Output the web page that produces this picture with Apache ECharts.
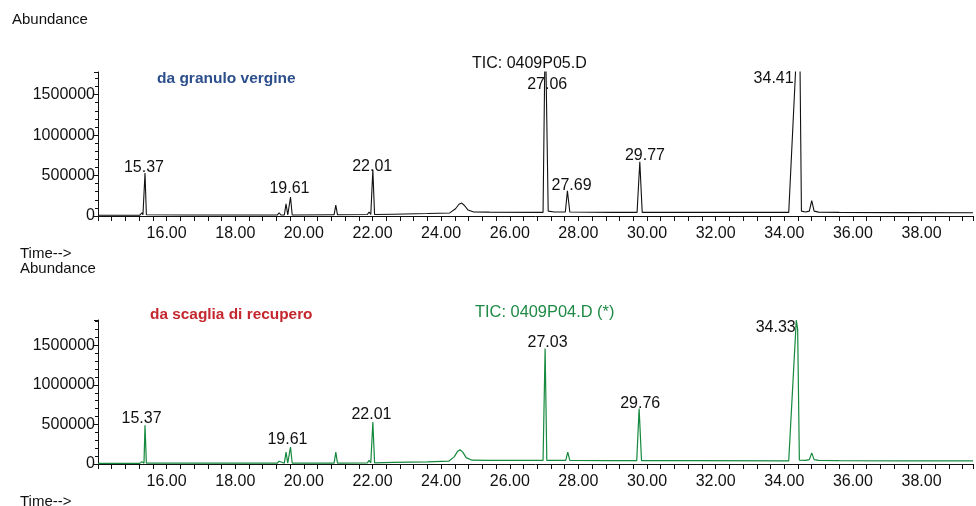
<!DOCTYPE html>
<html>
<head>
<meta charset="utf-8">
<script src="https://cdn.jsdelivr.net/npm/echarts@6/dist/echarts.min.js"></script>
<style>
html,body{margin:0;padding:0;background:#fff;}
#c{width:976px;height:506px;}
</style>
</head>
<body>
<div id="c"></div>
<script>
// ---- Data ----
const xTicks = [16, 18, 20, 22, 24, 26, 28, 30, 32, 34, 36, 38];
const yTicks = [0, 500000, 1000000, 1500000];

// Top trace (da granulo vergine) – retention time (min) / abundance
const timeTop = [14.00, 15.22, 15.28, 15.31, 15.34, 15.37, 15.41, 15.46, 16.6, 19.22, 19.28, 19.33, 19.43, 19.48, 19.53, 19.57, 19.61, 19.66, 20.82, 20.88, 20.93, 20.98, 21.85, 21.90, 21.95, 22.01, 22.06, 22.6, 23.6, 24.25, 24.42, 24.52, 24.60, 24.68, 24.78, 24.95, 25.4, 26.97, 27.00, 27.035, 27.09, 27.12, 27.3, 27.62, 27.68, 27.75, 29.0, 29.71, 29.79, 29.86, 31.5, 34.13, 34.33, 34.40, 34.46, 34.50, 34.62, 34.73, 34.80, 34.87, 35.0, 35.6, 37.5, 39.5];
const abundTop = [10000, 10000, 40000, 15000, 15000, 530000, 15000, 10000, 12000, 12000, 40000, 12000, 12000, 150000, 12000, 12000, 235000, 12000, 15000, 15000, 135000, 15000, 18000, 50000, 18000, 570000, 18000, 22000, 30000, 38000, 90000, 145000, 160000, 130000, 75000, 50000, 48000, 45000, 60000, 2400000, 2400000, 60000, 50000, 50000, 310000, 50000, 45000, 45000, 670000, 45000, 45000, 45000, 1800000, 2600000, 1800000, 60000, 50000, 60000, 190000, 60000, 48000, 45000, 42000, 40000];

// Bottom trace (da scaglia di recupero)
const timeBot = [14.00, 15.22, 15.28, 15.31, 15.34, 15.37, 15.41, 15.46, 16.6, 19.22, 19.28, 19.33, 19.43, 19.48, 19.53, 19.57, 19.61, 19.66, 20.82, 20.88, 20.93, 20.98, 21.85, 21.90, 21.95, 22.01, 22.06, 22.6, 23.6, 24.22, 24.38, 24.48, 24.55, 24.63, 24.73, 24.90, 25.4, 26.97, 27.03, 27.08, 27.3, 27.63, 27.69, 27.75, 29.0, 29.70, 29.77, 29.84, 31.5, 34.13, 34.35, 34.39, 34.44, 34.62, 34.73, 34.80, 34.87, 35.0, 35.6, 37.5, 39.5];
const abundBot = [8000, 8000, 30000, 10000, 10000, 490000, 10000, 8000, 10000, 10000, 35000, 10000, 10000, 150000, 10000, 10000, 215000, 10000, 12000, 12000, 150000, 12000, 15000, 45000, 15000, 530000, 15000, 20000, 28000, 36000, 90000, 160000, 180000, 150000, 80000, 48000, 45000, 45000, 1460000, 45000, 45000, 45000, 150000, 45000, 42000, 42000, 700000, 42000, 42000, 40000, 1820000, 1700000, 50000, 45000, 55000, 140000, 55000, 45000, 42000, 40000, 40000];

// Peak annotations: label text, label-centre time, label-centre abundance
const peakTextTop = ['15.37', '19.61', '22.01', '27.06', '27.69', '29.77', '34.41'];
const peakTimeTop = [15.34, 19.58, 21.99, 27.09, 27.80, 29.94, 33.69];
const peakAbTop   = [600000, 340000, 610000, 1630000, 370000, 750000, 1693000];

const peakTextBot = ['15.37', '19.61', '22.01', '27.03', '29.76', '34.33'];
const peakTimeBot = [15.27, 19.52, 21.97, 27.10, 29.80, 33.75];
const peakAbBot   = [573000, 304000, 620000, 1534000, 763000, 1720000];

// ---- Chart ----
const FONT = '"Liberation Sans", Arial, Helvetica, sans-serif';
const pair = (a, b) => a.map((v, i) => [v, b[i]]);
const labels = (t, x, y) => t.map((s, i) => ({ name: s, value: [x[i], y[i]] }));

function xAxis(gi) {
  return {
    type: 'value', gridIndex: gi, min: 14, max: 39.5, interval: 2,
    axisLine: { lineStyle: { color: '#111', width: 1 } },
    axisTick: { show: true, length: 5, lineStyle: { color: '#111' } },
    minorTick: { show: true, splitNumber: 5, length: 5, lineStyle: { color: '#111' } },
    splitLine: { show: false },
    axisLabel: {
      color: '#111', fontSize: 16, fontFamily: FONT, margin: 10,
      formatter: v => (xTicks.indexOf(v) >= 0 ? v.toFixed(2) : '')
    }
  };
}
function yAxis(gi, max) {
  return {
    type: 'value', gridIndex: gi, min: 0, max: max, interval: 500000,
    axisLine: { show: true, lineStyle: { color: '#111', width: 1 } },
    axisTick: { show: true, length: 4, lineStyle: { color: '#111' } },
    minorTick: { show: true, splitNumber: 5, length: 3, lineStyle: { color: '#111' } },
    splitLine: { show: false },
    axisLabel: {
      color: '#111', fontSize: 16, fontFamily: FONT, margin: 3,
      formatter: v => (yTicks.indexOf(v) >= 0 ? String(v) : '')
    }
  };
}
function labelSeries(xi, data) {
  return {
    type: 'scatter', xAxisIndex: xi, yAxisIndex: xi, symbolSize: 0, silent: true,
    data: data, z: 5,
    itemStyle: { opacity: 1 },
    label: {
      show: true, position: 'inside', formatter: p => p.name,
      color: '#111', fontSize: 16, fontFamily: FONT
    }
  };
}
function txt(text, left, top, size, weight, color) {
  return { text: text, left: left, top: top, padding: 0,
    textStyle: { fontSize: size, fontWeight: weight, color: color, fontFamily: FONT } };
}

const chart = echarts.init(document.getElementById('c'), null, { renderer: 'canvas' });
chart.setOption({
  animation: false,
  backgroundColor: '#fff',
  grid: [
    { left: 98, right: 0, top: 72, height: 144 },
    { left: 98, right: 0, top: 320, height: 144 }
  ],
  xAxis: [xAxis(0), xAxis(1)],
  yAxis: [yAxis(0, 1780000), yAxis(1, 1820000)],
  title: [
    txt('Abundance', 12, 12, 15, 'normal', '#111'),
    txt('Time-->', 20, 246, 15, 'normal', '#111'),
    txt('Abundance', 20, 261, 15, 'normal', '#111'),
    txt('Time-->', 20, 494, 15, 'normal', '#111'),
    txt('TIC: 0409P05.D', 472, 56, 16, 'normal', '#111'),
    txt('da granulo vergine', 157, 71, 15.5, 'bold', '#2c4f8c'),
    txt('da scaglia di recupero', 150, 307, 15.4, 'bold', '#c4282e'),
    txt('TIC: 0409P04.D (*)', 475, 304, 16.4, 'normal', '#1e8a45')
  ],
  series: [
    {
      type: 'line', xAxisIndex: 0, yAxisIndex: 0, showSymbol: false, symbol: 'none',
      data: pair(timeTop, abundTop), clip: true,
      lineStyle: { color: '#111', width: 1.1 }
    },
    {
      type: 'line', xAxisIndex: 1, yAxisIndex: 1, showSymbol: false, symbol: 'none',
      data: pair(timeBot, abundBot), clip: true,
      lineStyle: { color: '#15893d', width: 1.2 }
    },
    labelSeries(0, labels(peakTextTop, peakTimeTop, peakAbTop)),
    labelSeries(1, labels(peakTextBot, peakTimeBot, peakAbBot))
  ]
});
</script>
</body>
</html>
